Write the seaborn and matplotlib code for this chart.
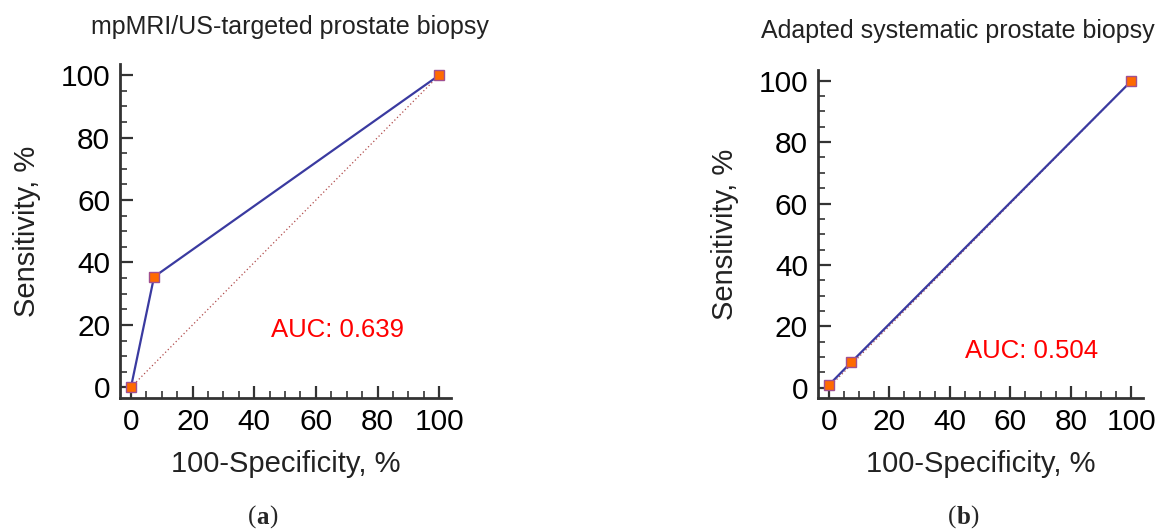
# ROC curves for the two biopsy approaches
import numpy as np
import seaborn as sns
import matplotlib.pyplot as plt
from matplotlib.ticker import MultipleLocator

# values
titles = ["mpMRI/US-targeted prostate biopsy", "Adapted systematic prostate biopsy"]
panel_labels = ["a", "b"]
auc_values = [0.639, 0.504]

fpr_a = [0, 7.5, 100]
tpr_a = [0, 35.4, 100]
fpr_b = [0, 0, 7.4, 100]
tpr_b = [0, 1.5, 8.2, 100]
diag = [0, 100]

curves = [(fpr_a, tpr_a), (fpr_b, tpr_b)]

sns.set_theme(style="white")
plt.rcParams["font.family"] = ["Liberation Sans", "DejaVu Sans"]

fig = plt.figure(figsize=(11.75, 5.31), dpi=100)
axes_pos = [[0.102, 0.250, 0.282, 0.629], [0.696, 0.250, 0.277, 0.618]]
title_pos = [(0.247, 0.950), (0.815, 0.942)]
auc_pos = [(67, 18.3), (67, 11.8)]
label_pos = [0.218, 0.814]

for i, (fx, ty) in enumerate(curves):
    ax = fig.add_axes(axes_pos[i])
    sns.lineplot(x=diag, y=diag, ax=ax, color="#b04a4a", lw=0.9,
                 linestyle=(0, (1, 2)), zorder=1)
    sns.lineplot(x=fx, y=ty, ax=ax, sort=False, color="#3a3aa0", lw=1.6,
                 marker="s", markersize=7, markerfacecolor="#ff6a00",
                 markeredgecolor="#a05090", markeredgewidth=1.0, zorder=3)
    ax.set_xlim(-3.6, 103.9)
    ax.set_ylim(-3.5, 103.5)
    ax.xaxis.set_major_locator(MultipleLocator(20))
    ax.yaxis.set_major_locator(MultipleLocator(20))
    ax.xaxis.set_minor_locator(MultipleLocator(5))
    ax.yaxis.set_minor_locator(MultipleLocator(5))
    ax.tick_params(which="major", direction="in", length=9, width=1.6,
                   color="#333333", labelsize=21.5, labelcolor="black", pad=7,
                   left=True, bottom=True)
    ax.tick_params(which="minor", direction="in", length=5, width=1.2,
                   color="#333333", left=True, bottom=True)
    for s in ["top", "right"]:
        ax.spines[s].set_visible(False)
    for s in ["left", "bottom"]:
        ax.spines[s].set_color("#333333")
        ax.spines[s].set_linewidth(2)
    ax.set_xlabel("100-Specificity, %", fontsize=21, color="#222222", labelpad=10)
    ax.set_ylabel("Sensitivity, %", fontsize=21, color="#222222", labelpad=14)
    ax.text(auc_pos[i][0], auc_pos[i][1], f"AUC: {auc_values[i]:.3f}",
            color="red", fontsize=18.5, ha="center", va="center")
    fig.text(title_pos[i][0], title_pos[i][1], titles[i], fontsize=18,
             color="#222222", ha="center", va="center")
    # subplot letter, bold letter between plain parentheses
    fig.text(label_pos[i], 0.025, "(", fontsize=18, family="Liberation Serif",
             ha="right", va="center")
    fig.text(label_pos[i], 0.025, panel_labels[i], fontsize=18,
             family="Liberation Serif", weight="bold", ha="left", va="center")
    fig.text(label_pos[i] + 0.0115, 0.025, ")", fontsize=18,
             family="Liberation Serif", ha="left", va="center")

plt.savefig("out.png", dpi=100)
